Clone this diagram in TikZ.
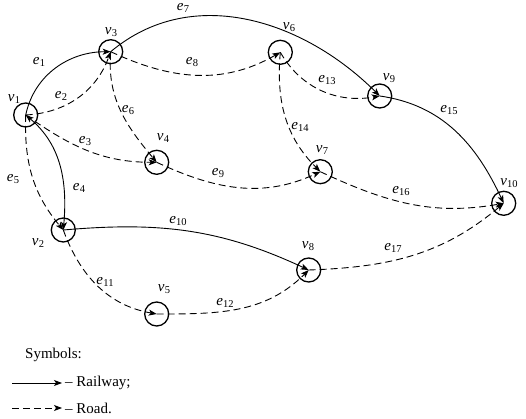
\documentclass[tikz,border=0pt]{standalone}
\usepackage{fontspec}
\setmainfont{Liberation Serif}
\usetikzlibrary{arrows.meta}
\newcommand\sublab[2]{\textit{#1}\kern0.3pt\raisebox{-0.35ex}{\fontsize{10.5}{12}\selectfont #2}}
\begin{document}
\begin{tikzpicture}[x=1pt,y=1pt,
  >={Stealth[length=8pt,width=6pt,inset=2pt]},
  vtx/.style={circle,draw,line width=1.3pt,minimum size=24pt,inner sep=0pt},
  rail/.style={line width=0.9pt},
  road/.style={line width=0.9pt,dash pattern=on 7pt off 4pt},
  lbl/.style={inner sep=0pt,font=\fontsize{15}{18}\selectfont}]
\useasboundingbox (0,0) rectangle (526,-419);
% vertices
\node[vtx] (v1) at (25.7,-115) {};
\node[vtx] (v2) at (63.3,-230) {};
\node[vtx] (v3) at (110.7,-51.7) {};
\node[vtx] (v4) at (156.7,-162.3) {};
\node[vtx] (v5) at (156.7,-314) {};
\node[vtx] (v6) at (280.3,-52.3) {};
\node[vtx] (v7) at (320.3,-171.7) {};
\node[vtx] (v8) at (308.7,-270) {};
\node[vtx] (v9) at (379.7,-96) {};
\node[vtx] (v10) at (503.7,-203.3) {};
% vertex labels
\node[lbl] (l1) at (14,-99) {\sublab{v}{1}};
\node[lbl] (l2) at (38,-243) {\sublab{v}{2}};
\node[lbl] (l3) at (111,-32) {\sublab{v}{3}};
\node[lbl] (l4) at (163,-138) {\sublab{v}{4}};
\node[lbl] (l5) at (164,-289) {\sublab{v}{5}};
\node[lbl] (l6) at (289,-27) {\sublab{v}{6}};
\node[lbl] (l7) at (322,-150) {\sublab{v}{7}};
\node[lbl] (l8) at (308,-246) {\sublab{v}{8}};
\node[lbl] (l9) at (389,-78) {\sublab{v}{9}};
\node[lbl] (l10) at (509,-183) {\sublab{v}{10}};
% edges
\draw[rail,->] (v1.center) to[out=78,in=180] (v3.center);
\draw[road,->] (v1.center) to[out=3,in=-110] (v3.center);
\draw[road,->] (v1.center) to[out=-35,in=180] (v4.center);
\draw[rail,<->] (v1.center) to[out=-40,in=85] (v2.center);
\draw[road,->] (v1.center) to[out=-92,in=130] (v2.center);
\draw[road,->] (v3.center) to[out=-95,in=130] (v4.center);
\draw[rail,->] (v3.center) to[out=40,in=135] (v9.center);
\draw[road,->] (v3.center) to[out=-25,in=-150] (v6.center);
\draw[road,->] (v4.center) to[out=-25,in=-155] (v7.center);
\draw[rail,->] (v2.center) to[out=5,in=155] (v8.center);
\draw[road,->] (v2.center) to[out=-70,in=170] (v5.center);
\draw[road,->] (v5.center) to[out=0,in=-135] (v8.center);
\draw[road,->] (v6.center) to[out=-60,in=-170] (v9.center);
\draw[road,->] (v6.center) to[out=-95,in=135] (v7.center);
\draw[rail,->] (v9.center) to[out=-8,in=115] (v10.center);
\draw[road,->] (v7.center) to[out=-25,in=-170] (v10.center);
\draw[road,->] (v8.center) to[out=2,in=-140] (v10.center);
% edge labels
\node[lbl] (e1) at (39,-62) {\sublab{e}{1}};
\node[lbl] (e2) at (61,-96) {\sublab{e}{2}};
\node[lbl] (e3) at (85,-141) {\sublab{e}{3}};
\node[lbl] (e4) at (79,-188) {\sublab{e}{4}};
\node[lbl] (e5) at (13,-179) {\sublab{e}{5}};
\node[lbl] (e6) at (128,-110) {\sublab{e}{6}};
\node[lbl] (e7) at (183,-8) {\sublab{e}{7}};
\node[lbl] (e8) at (192,-62) {\sublab{e}{8}};
\node[lbl] (e9) at (218,-173) {\sublab{e}{9}};
\node[lbl] (e10) at (178,-221) {\sublab{e}{10}};
\node[lbl] (e11) at (105,-282) {\sublab{e}{11}};
\node[lbl] (e12) at (225,-303) {\sublab{e}{12}};
\node[lbl] (e13) at (327,-80) {\sublab{e}{13}};
\node[lbl] (e14) at (300,-127) {\sublab{e}{14}};
\node[lbl] (e15) at (449,-110) {\sublab{e}{15}};
\node[lbl] (e16) at (401,-191) {\sublab{e}{16}};
\node[lbl] (e17) at (393,-248) {\sublab{e}{17}};
% legend
\node[lbl,anchor=west] (sym) at (25,-355) {Symbols:};
\coordinate (ra) at (12,-383);
\coordinate (rb) at (62,-383);
\coordinate (da) at (12,-408);
\coordinate (db) at (62,-408);
\draw[rail,->] (ra) -- (rb);
\draw[road,->] (da) -- (db);
\node[lbl,anchor=west] (rt) at (65,-383) {– Railway;};
\node[lbl,anchor=west] (dt) at (65,-408) {– Road.};
\end{tikzpicture}
\end{document}
